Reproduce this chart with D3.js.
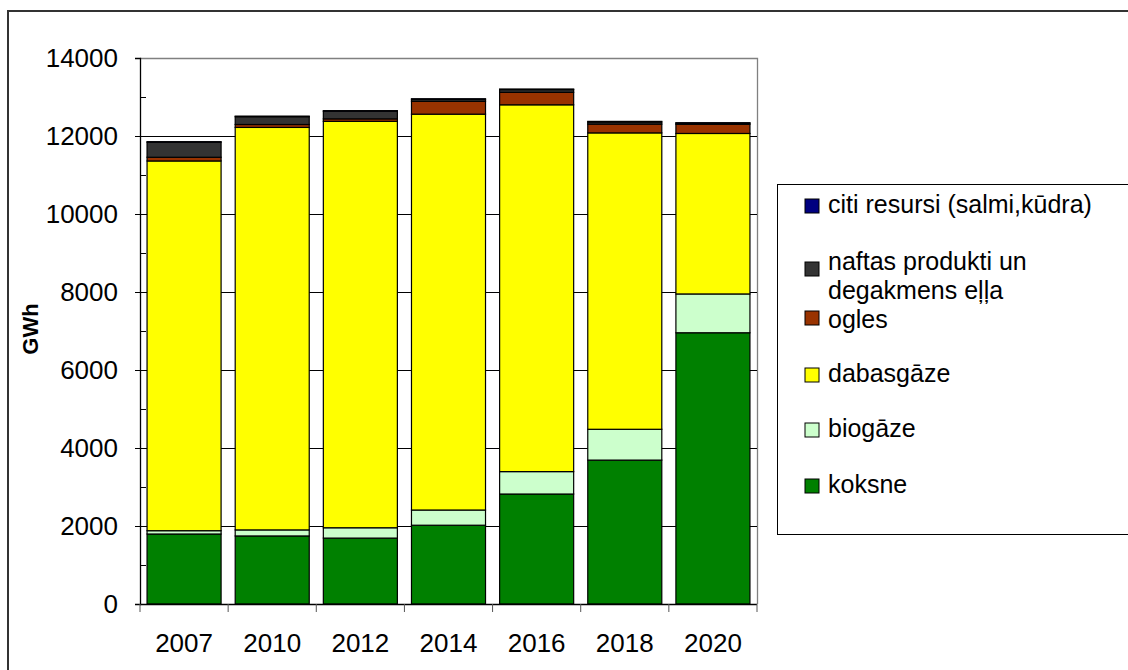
<!DOCTYPE html>
<html>
<head>
<meta charset="utf-8">
<script src="https://cdn.jsdelivr.net/npm/d3@7/dist/d3.min.js"></script>
<style>
  html, body { margin: 0; padding: 0; background: #fff; }
  svg { display: block; }
  text { font-family: "Liberation Sans", Arial, sans-serif; fill: #000; }
</style>
</head>
<body>
<svg id="chart" width="1128" height="670"></svg>
<script>
// Energy resources used, GWh, by year
const years = ["2007", "2010", "2012", "2014", "2016", "2018", "2020"];
const koksne    = [1795, 1745, 1690, 2020, 2820, 3690, 6955];
const biogaze   = [85, 155, 265, 390, 575, 790, 995];
const dabasgaze = [9480, 10320, 10420, 10150, 9405, 7600, 4115];
const ogles     = [95, 75, 65, 330, 320, 225, 235];
const naftas    = [385, 200, 195, 50, 70, 55, 30];
const citi      = [15, 15, 15, 15, 15, 15, 10];
const yTicks    = [0, 2000, 4000, 6000, 8000, 10000, 12000, 14000];

// stacking order bottom -> top
const series = [
  { key: "koksne",    label: ["koksne"],                           color: "#008000", values: koksne },
  { key: "biogaze",   label: ["biogāze"],                          color: "#CCFFCC", values: biogaze },
  { key: "dabasgaze", label: ["dabasgāze"],                        color: "#FFFF00", values: dabasgaze },
  { key: "ogles",     label: ["ogles"],                            color: "#993300", values: ogles },
  { key: "naftas",    label: ["naftas produkti un", "degakmens eļļa"], color: "#333333", values: naftas },
  { key: "citi",      label: ["citi resursi (salmi,kūdra)"],       color: "#000080", values: citi }
];

const rows = years.map((yr, i) => {
  const r = { year: yr };
  series.forEach(s => { r[s.key] = s.values[i]; });
  return r;
});

const svg = d3.select("#chart");
const plotL = 140, plotR = 757, plotT = 58, plotB = 604;

const x = d3.scaleBand().domain(years).range([plotL, plotR]).paddingInner(0.16).paddingOuter(0.08);
const y = d3.scaleLinear().domain([0, 14000]).range([plotB, plotT]);

// outer chart frame
svg.append("rect")
  .attr("x", 8).attr("y", 11).attr("width", 1140).attr("height", 680)
  .attr("fill", "none").attr("stroke", "#333").attr("stroke-width", 2);

// plot area border (top and right)
svg.append("path")
  .attr("d", `M${plotL},${plotT + 0.5}H${plotR + 0.5}V${plotB}`)
  .attr("fill", "none").attr("stroke", "#808080").attr("stroke-width", 1.3);

// horizontal gridlines
svg.append("g").selectAll("line")
  .data(yTicks.filter(v => v > 0 && v < 14000))
  .join("line")
  .attr("x1", plotL).attr("x2", plotR)
  .attr("y1", d => Math.round(y(d)) + 0.5).attr("y2", d => Math.round(y(d)) + 0.5)
  .attr("stroke", "#000").attr("stroke-width", 1);

// stacked bars
const stack = d3.stack().keys(series.map(s => s.key));
const stacked = stack(rows);
svg.append("g").selectAll("g")
  .data(stacked)
  .join("g")
  .attr("fill", (d, i) => series[i].color)
  .selectAll("rect")
  .data(d => d)
  .join("rect")
  .attr("x", d => x(d.data.year))
  .attr("width", x.bandwidth())
  .attr("y", d => y(d[1]))
  .attr("height", d => y(d[0]) - y(d[1]))
  .attr("stroke", "#000").attr("stroke-width", 1.2);

// y axis
const yAxis = d3.axisLeft(y).tickValues(yTicks).tickSize(5).tickPadding(17).tickFormat(d3.format("d"));
const gy = svg.append("g").attr("transform", `translate(${plotL},0)`).call(yAxis);
gy.select(".domain").attr("stroke", "#000").attr("stroke-width", 1.3);
gy.selectAll(".tick line").attr("stroke", "#000");
gy.selectAll("text").style("font-size", "26px").attr("font-family", "Liberation Sans, Arial, sans-serif");

// minor ticks (inside the plot)
svg.append("g").selectAll("line")
  .data(d3.range(1000, 14000, 2000))
  .join("line")
  .attr("x1", plotL).attr("x2", plotL + 6)
  .attr("y1", d => Math.round(y(d)) + 0.5).attr("y2", d => Math.round(y(d)) + 0.5)
  .attr("stroke", "#000");

// x axis with ticks at category boundaries
svg.append("line")
  .attr("x1", plotL).attr("x2", plotR).attr("y1", plotB + 0.5).attr("y2", plotB + 0.5)
  .attr("stroke", "#000").attr("stroke-width", 1.3);
const step = x.step();
const bounds = years.map(d => x(d) - x.paddingInner() * step / 2).concat([plotR]);
bounds[0] = plotL;
svg.append("g").selectAll("line")
  .data(bounds)
  .join("line")
  .attr("x1", d => d).attr("x2", d => d)
  .attr("y1", plotB).attr("y2", plotB + 8)
  .attr("stroke", "#555");
svg.append("g").selectAll("text")
  .data(years)
  .join("text")
  .attr("x", d => x(d) + x.bandwidth() / 2)
  .attr("y", 652)
  .attr("text-anchor", "middle")
  .style("font-size", "26px")
  .text(d => d);

// y axis title
svg.append("text")
  .attr("transform", "translate(38,329) rotate(-90)")
  .attr("text-anchor", "middle")
  .style("font-size", "22px").style("font-weight", "bold")
  .text("GWh");

// legend
const legend = svg.append("g");
legend.append("rect")
  .attr("x", 777.5).attr("y", 184.5).attr("width", 400).attr("height", 350)
  .attr("fill", "#fff").attr("stroke", "#000").attr("stroke-width", 1);
const legendItems = series.slice().reverse();
const swatchY = [213, 276, 325, 382, 437, 493];   // swatch bottoms
const textY   = [213, 270, 328, 382, 437, 493];   // first-line baselines
const lineGap = 29;
legendItems.forEach((s, i) => {
  legend.append("rect")
    .attr("x", 805).attr("y", swatchY[i] - 14).attr("width", 14).attr("height", 14)
    .attr("fill", s.color).attr("stroke", "#000").attr("stroke-width", 1);
  s.label.forEach((line, j) => {
    legend.append("text")
      .attr("x", 828).attr("y", textY[i] + j * lineGap)
      .style("font-size", "25px")
      .text(line);
  });
});
</script>
</body>
</html>
